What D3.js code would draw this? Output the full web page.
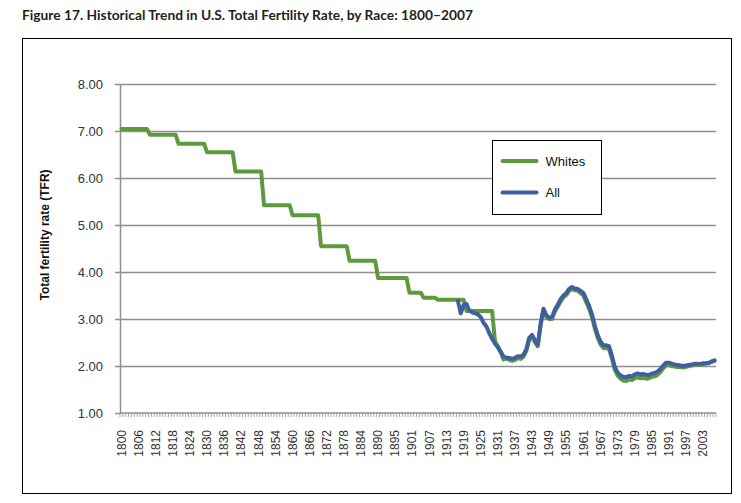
<html>
<head>
  <script src="https://d3js.org/d3.v7.min.js"></script>
  <style>
    body { margin: 0; background: #fff; }
    .axis text { font-family: "Liberation Sans", Arial, sans-serif; fill: #333; }
    .axis .domain { stroke: #8f8f8f; stroke-width: 1.5px; }
    .axis line { stroke: #8f8f8f; stroke-width: 1.5px; }
    .gridlines line { stroke: #8f8f8f; stroke-width: 1.5px; }
    .gridlines .domain { stroke: none; }
  </style>
</head>
<body>
  <svg id="chart" width="741" height="503"></svg>
  <script>
    // categories of the Excel axis (the source sheet has one extra row after 1890)
    const categories = d3.range(1800, 1891).map(String)
      .concat(["1890b"], d3.range(1891, 2008).map(String));

    const xTickLabels = ["1800", "1806", "1812", "1818", "1824", "1830", "1836", "1842", "1848", "1854",
      "1860", "1866", "1872", "1878", "1884", "1890", "1895", "1901", "1907", "1913", "1919", "1925",
      "1931", "1937", "1943", "1949", "1955", "1961", "1967", "1973", "1979", "1985", "1991", "1997", "2003"];
    const yTicks = [1, 2, 3, 4, 5, 6, 7, 8];

    // Whites: step values up to 1929, then annual
    const whiteYears = ["1800", "1809", "1810", "1819", "1820", "1829", "1830", "1839", "1840", "1849",
      "1850", "1859", "1860", "1869", "1870", "1879", "1880", "1889", "1890", "1899", "1900", "1904",
      "1905", "1909", "1910", "1919", "1920", "1929",
      "1930", "1931", "1932", "1933", "1934", "1935", "1936", "1937", "1938", "1939",
      "1940", "1941", "1942", "1943", "1944", "1945", "1946", "1947", "1948", "1949",
      "1950", "1951", "1952", "1953", "1954", "1955", "1956", "1957", "1958", "1959",
      "1960", "1961", "1962", "1963", "1964", "1965", "1966", "1967", "1968", "1969",
      "1970", "1971", "1972", "1973", "1974", "1975", "1976", "1977", "1978", "1979",
      "1980", "1981", "1982", "1983", "1984", "1985", "1986", "1987", "1988", "1989",
      "1990", "1991", "1992", "1993", "1994", "1995", "1996", "1997", "1998", "1999",
      "2000", "2001", "2002", "2003", "2004", "2005", "2006", "2007"];
    const whiteTfr = [7.04, 7.04, 6.92, 6.92, 6.73, 6.73, 6.55, 6.55, 6.14, 6.14,
      5.42, 5.42, 5.21, 5.21, 4.55, 4.55, 4.24, 4.24, 3.87, 3.87, 3.56, 3.56,
      3.45, 3.45, 3.41, 3.41, 3.17, 3.17,
      2.52, 2.42, 2.30, 2.14, 2.16, 2.13, 2.11, 2.13, 2.17, 2.15,
      2.20, 2.32, 2.56, 2.62, 2.51, 2.42, 2.87, 3.19, 3.04, 3.00,
      3.00, 3.16, 3.26, 3.37, 3.46, 3.51, 3.60, 3.64, 3.61, 3.60,
      3.55, 3.50, 3.36, 3.22, 3.04, 2.80, 2.60, 2.46, 2.38, 2.38,
      2.36, 2.16, 1.92, 1.80, 1.73, 1.69, 1.68, 1.71, 1.70, 1.74,
      1.76, 1.74, 1.75, 1.73, 1.74, 1.77, 1.78, 1.81, 1.87, 1.95,
      2.01, 2.02, 2.00, 1.99, 1.98, 1.98, 1.97, 1.98, 2.00, 2.01,
      2.03, 2.03, 2.02, 2.04, 2.05, 2.06, 2.09, 2.11];

    // All races: annual from 1917
    const allYears = ["1917", "1918", "1919",
      "1920", "1921", "1922", "1923", "1924", "1925", "1926", "1927", "1928", "1929",
      "1930", "1931", "1932", "1933", "1934", "1935", "1936", "1937", "1938", "1939",
      "1940", "1941", "1942", "1943", "1944", "1945", "1946", "1947", "1948", "1949",
      "1950", "1951", "1952", "1953", "1954", "1955", "1956", "1957", "1958", "1959",
      "1960", "1961", "1962", "1963", "1964", "1965", "1966", "1967", "1968", "1969",
      "1970", "1971", "1972", "1973", "1974", "1975", "1976", "1977", "1978", "1979",
      "1980", "1981", "1982", "1983", "1984", "1985", "1986", "1987", "1988", "1989",
      "1990", "1991", "1992", "1993", "1994", "1995", "1996", "1997", "1998", "1999",
      "2000", "2001", "2002", "2003", "2004", "2005", "2006", "2007"];
    const allTfr = [3.38, 3.12, 3.30,
      3.32, 3.18, 3.14, 3.12, 3.10, 3.04, 2.92, 2.84, 2.70, 2.58,
      2.48, 2.40, 2.30, 2.20, 2.18, 2.17, 2.15, 2.17, 2.21, 2.20,
      2.24, 2.36, 2.60, 2.66, 2.55, 2.45, 2.90, 3.22, 3.08, 3.03,
      3.04, 3.20, 3.30, 3.42, 3.50, 3.55, 3.64, 3.68, 3.65, 3.64,
      3.60, 3.55, 3.42, 3.28, 3.10, 2.86, 2.66, 2.52, 2.44, 2.44,
      2.42, 2.22, 1.98, 1.86, 1.80, 1.77, 1.76, 1.79, 1.78, 1.82,
      1.84, 1.82, 1.83, 1.81, 1.81, 1.84, 1.85, 1.88, 1.94, 2.01,
      2.07, 2.07, 2.05, 2.03, 2.02, 2.01, 2.00, 2.01, 2.02, 2.03,
      2.05, 2.05, 2.04, 2.06, 2.06, 2.07, 2.10, 2.12];

    const seriesNames = ["Whites", "All"];
    const seriesColors = ["#5c9a3c", "#3f5f9f"];

    const svg = d3.select("svg#chart");
    const plot = { left: 120, right: 716, top: 84, bottom: 413 };

    const x = d3.scaleBand().domain(categories).range([plot.left, plot.right]).padding(0);
    const y = d3.scaleLinear().domain([1, 8]).range([plot.bottom, plot.top]);
    const cx = c => x(c) + x.bandwidth() / 2;

    // outer frame
    svg.append("rect")
      .attr("x", 22.5).attr("y", 38.5)
      .attr("width", 709).attr("height", 455)
      .attr("fill", "none").attr("stroke", "#000").attr("stroke-width", 1);

    svg.append("text")
      .text("Figure 17. Historical Trend in U.S. Total Fertility Rate, by Race: 1800\u20132007")
      .attr("x", 22).attr("y", 20)
      .attr("textLength", 451).attr("lengthAdjust", "spacingAndGlyphs")
      .style("font-family", "Lato, 'Open Sans', sans-serif")
      .style("font-weight", "bold")
      .style("font-size", "14px")
      .style("fill", "#231f20");

    // horizontal gridlines
    svg.append("g")
      .attr("class", "gridlines")
      .attr("transform", "translate(" + plot.left + ",0)")
      .call(d3.axisLeft(y).tickValues(yTicks.slice(1)).tickSize(-(plot.right - plot.left)).tickFormat(""));

    // y axis
    svg.append("g")
      .attr("class", "axis y")
      .attr("transform", "translate(" + plot.left + ",0)")
      .call(d3.axisLeft(y).tickValues(yTicks).tickFormat(d3.format(".2f")).tickSizeInner(5).tickSizeOuter(0).tickPadding(12))
      .selectAll("text").style("font-size", "13px");

    // x axis: line + one tick per category boundary
    const xAxis = svg.append("g").attr("class", "axis x");
    xAxis.append("line")
      .attr("x1", plot.left).attr("x2", plot.right)
      .attr("y1", plot.bottom).attr("y2", plot.bottom);
    xAxis.selectAll("line.minor")
      .data(categories.concat(["end"]))
      .join("line")
      .attr("class", "minor")
      .attr("x1", d => d === "end" ? plot.right : x(d))
      .attr("x2", d => d === "end" ? plot.right : x(d))
      .attr("y1", plot.bottom).attr("y2", plot.bottom + 4)
      .style("stroke-width", 0.8);

    svg.append("g")
      .attr("class", "axis xlabels")
      .attr("transform", "translate(0," + plot.bottom + ")")
      .call(d3.axisBottom(x).tickValues(xTickLabels).tickSize(0).tickPadding(0))
      .call(g => g.select(".domain").remove())
      .selectAll("text")
      .style("font-size", "12px")
      .attr("text-anchor", "end")
      .attr("transform", "rotate(-90)")
      .attr("x", -17)
      .attr("y", 0)
      .attr("dy", "0.35em");

    svg.append("text")
      .text("Total fertility rate (TFR)")
      .attr("transform", "translate(49,235) rotate(-90)")
      .attr("text-anchor", "middle")
      .style("font-family", "'Liberation Sans', Arial, sans-serif")
      .style("font-weight", "bold")
      .style("font-size", "12px")
      .style("fill", "#111");

    const line = d3.line().x(d => cx(d[0])).y(d => y(d[1]));
    const whites = whiteYears.map((c, i) => [c, whiteTfr[i]]);
    const all = allYears.map((c, i) => [c, allTfr[i]]);

    svg.selectAll("path.series")
      .data([whites, all])
      .join("path")
      .attr("class", "series")
      .attr("d", line)
      .attr("fill", "none")
      .attr("stroke", (d, i) => seriesColors[i])
      .attr("stroke-width", 4)
      .attr("stroke-linejoin", "round")
      .attr("stroke-linecap", "round");

    // legend
    const legend = svg.append("g").attr("transform", "translate(492.5,140.5)");
    legend.append("rect")
      .attr("width", 109).attr("height", 74)
      .attr("fill", "#fff").attr("stroke", "#000").attr("stroke-width", 1);
    seriesNames.forEach((name, i) => {
      const ly = 20.5 + i * 31.5;
      legend.append("line")
        .attr("x1", 10).attr("x2", 44)
        .attr("y1", ly).attr("y2", ly)
        .attr("stroke", seriesColors[i]).attr("stroke-width", 4)
        .attr("stroke-linecap", "round");
      legend.append("text")
        .text(name)
        .attr("x", 53).attr("y", ly)
        .attr("dy", "0.35em")
        .style("font-family", "'Liberation Sans', Arial, sans-serif")
        .style("font-size", "13px")
        .style("fill", "#111");
    });
  </script>
</body>
</html>
